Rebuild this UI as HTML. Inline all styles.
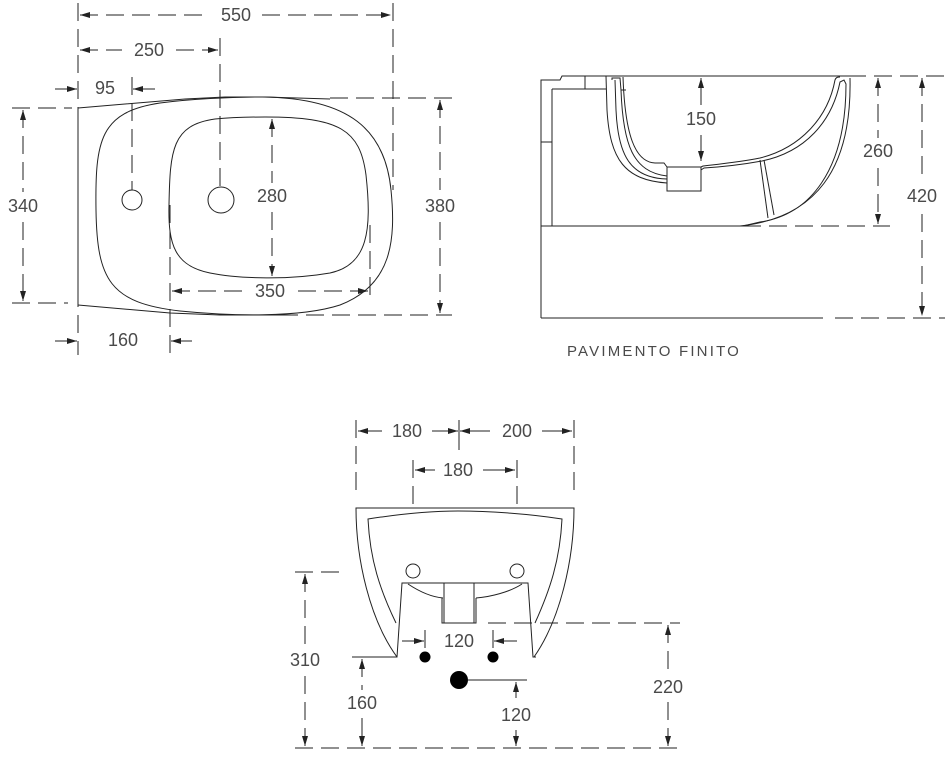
<!DOCTYPE html>
<html><head><meta charset="utf-8"><style>
html,body{margin:0;padding:0;background:#fff;}
svg{display:block;}
text{font-family:"Liberation Sans",sans-serif;font-size:18px;fill:#4a4a4a;text-anchor:middle;dominant-baseline:middle;}
.s{stroke:#222;stroke-width:1;fill:none;}
.d{stroke:#222;stroke-width:1;fill:none;stroke-dasharray:18,8;}
</style></head><body>
<svg width="947" height="759" viewBox="0 0 947 759" xmlns="http://www.w3.org/2000/svg">
<defs>
<marker id="a" viewBox="0 0 10 6" refX="10" refY="3" markerWidth="10" markerHeight="6" markerUnits="userSpaceOnUse" orient="auto-start-reverse"><path d="M0,0 L10,3 L0,6 Z" fill="#222"/></marker>
</defs>
<rect width="947" height="759" fill="#fff"/>

<!-- ===== TOP VIEW ===== -->
<line class="d" x1="78" y1="3" x2="78" y2="355"/>
<line class="d" x1="393" y1="3" x2="393" y2="190"/>
<line class="d" x1="80" y1="15" x2="210" y2="15" marker-start="url(#a)"/>
<line class="d" x1="262" y1="15" x2="391" y2="15" marker-end="url(#a)"/>
<text x="236" y="16">550</text>
<line class="d" x1="220" y1="38" x2="220" y2="188"/>
<line class="d" x1="80" y1="50" x2="122" y2="50" marker-start="url(#a)"/>
<line class="d" x1="176" y1="50" x2="218" y2="50" marker-end="url(#a)"/>
<text x="149" y="51">250</text>
<line class="d" x1="132" y1="77" x2="132" y2="190"/>
<line class="s" x1="55" y1="89" x2="77" y2="89" marker-end="url(#a)"/>
<line class="s" x1="155" y1="89" x2="133" y2="89" marker-end="url(#a)"/>
<text x="105" y="89">95</text>
<line class="s" x1="78" y1="108" x2="78" y2="305"/>
<path class="s" d="M78,108 L185,99 L225,97 L265,97 L330,99"/>
<path class="s" d="M78,305 L170,313 L220,315 L280,315"/>
<path class="s" d="M262,97 C350,98 385,130 391,190 C396,240 392,285 340,305 C300,318 230,316 180,311 C110,303 97,280 96,210 C95,140 100,112 160,103 C190,99 230,97 262,97 Z"/>
<path class="s" d="M265,117 C340,117 360,130 366,175 C372,230 368,265 330,273 C290,280 240,279 210,273 C175,266 168,245 169,205 C170,150 172,125 215,119 C235,117 250,117 265,117 Z"/>
<circle class="s" cx="132" cy="200" r="10"/>
<circle class="s" cx="221" cy="200" r="13"/>
<line class="d" x1="272" y1="119" x2="272" y2="183" marker-start="url(#a)"/>
<line class="d" x1="272" y1="212" x2="272" y2="276" marker-end="url(#a)"/>
<text x="272" y="197">280</text>
<line class="d" x1="170" y1="205" x2="170" y2="355"/>
<line class="d" x1="370" y1="225" x2="370" y2="303"/>
<line class="d" x1="172" y1="291" x2="243" y2="291" marker-start="url(#a)"/>
<line class="d" x1="298" y1="291" x2="368" y2="291" marker-end="url(#a)"/>
<text x="270" y="292">350</text>
<line class="d" x1="330" y1="98" x2="452" y2="98"/>
<line class="d" x1="280" y1="315" x2="452" y2="315"/>
<line class="d" x1="440" y1="100" x2="440" y2="190" marker-start="url(#a)"/>
<line class="d" x1="440" y1="222" x2="440" y2="313" marker-end="url(#a)"/>
<text x="440" y="207">380</text>
<line class="d" x1="12" y1="108" x2="72" y2="108"/>
<line class="d" x1="12" y1="303" x2="68" y2="303"/>
<line class="d" x1="23" y1="110" x2="23" y2="192" marker-start="url(#a)"/>
<line class="d" x1="23" y1="222" x2="23" y2="301" marker-end="url(#a)"/>
<text x="23" y="207">340</text>
<line class="s" x1="55" y1="341" x2="77" y2="341" marker-end="url(#a)"/>
<line class="s" x1="192" y1="341" x2="171" y2="341" marker-end="url(#a)"/>
<text x="123" y="341">160</text>

<!-- ===== SIDE VIEW ===== -->
<path class="s" d="M541,318 L541,80 L560,80 L562,76 L848,76"/>
<line class="d" x1="848" y1="76" x2="945" y2="76"/>
<line class="s" x1="541" y1="318" x2="823" y2="318"/>
<line class="d" x1="835" y1="318" x2="945" y2="318"/>
<line class="s" x1="552" y1="89" x2="552" y2="226"/>
<line class="s" x1="552" y1="89" x2="606" y2="89"/>
<line class="s" x1="585" y1="76" x2="585" y2="89"/>
<line class="s" x1="541" y1="142" x2="552" y2="142"/>
<line class="s" x1="541" y1="226" x2="743" y2="226"/>
<line class="d" x1="743" y1="226" x2="890" y2="226"/>
<path class="s" d="M606,76 L607,110 C610,160 625,180 667,183"/>
<path class="s" d="M612,80 L612,78 L620,78 L621,90 C623,145 633,172 667,176"/>
<path class="s" d="M615,80 L616,110 C618,155 630,178 667,179"/>
<path class="s" d="M623,77 C625,135 635,162 655,163 L664,163 L667,167"/>
<line class="s" x1="621" y1="90" x2="626" y2="90"/>
<rect class="s" x="667" y="167" width="34" height="24"/>
<path class="s" d="M701,167 L703,166 C720,164 740,162 760,158 C800,148 828,118 835,80 C836,77 838,77 840,77"/>
<path class="s" d="M701,170 L704,168 C720,167 740,165 762,161 C805,152 832,122 840,82 L844,80 L846,84 C846,170 810,215 760,222 L743,226"/>
<path class="s" d="M850,78 C852,170 815,218 740,226"/>
<line class="s" x1="760" y1="160" x2="768" y2="218"/>
<line class="s" x1="764" y1="160" x2="774" y2="215"/>
<line class="s" x1="701" y1="78" x2="701" y2="105" marker-start="url(#a)"/>
<line class="s" x1="701" y1="135" x2="701" y2="161" marker-end="url(#a)"/>
<text x="701" y="120">150</text>
<line class="d" x1="878" y1="78" x2="878" y2="138" marker-start="url(#a)"/>
<line class="d" x1="878" y1="168" x2="878" y2="224" marker-end="url(#a)"/>
<text x="878" y="152">260</text>
<line class="d" x1="922" y1="78" x2="922" y2="182" marker-start="url(#a)"/>
<line class="d" x1="922" y1="214" x2="922" y2="316" marker-end="url(#a)"/>
<text x="922" y="197">420</text>
<text x="654" y="352" style="font-size:15px;letter-spacing:2.2px;">PAVIMENTO FINITO</text>

<!-- ===== FRONT VIEW ===== -->
<line class="d" x1="356" y1="420" x2="356" y2="498"/>
<line class="s" x1="459" y1="420" x2="459" y2="450"/>
<line class="d" x1="574" y1="420" x2="574" y2="498"/>
<line class="s" x1="358" y1="431" x2="382" y2="431" marker-start="url(#a)"/>
<line class="s" x1="432" y1="431" x2="458" y2="431" marker-end="url(#a)"/>
<line class="s" x1="460" y1="431" x2="490" y2="431" marker-start="url(#a)"/>
<line class="s" x1="542" y1="431" x2="572" y2="431" marker-end="url(#a)"/>
<text x="407" y="432">180</text>
<text x="517" y="432">200</text>
<line class="d" x1="413" y1="460" x2="413" y2="508"/>
<line class="d" x1="517" y1="460" x2="517" y2="508"/>
<line class="s" x1="415" y1="470" x2="435" y2="470" marker-start="url(#a)"/>
<line class="s" x1="483" y1="470" x2="515" y2="470" marker-end="url(#a)"/>
<text x="458" y="471">180</text>
<path class="s" d="M397,657 C370,620 356,560 356,508 L574,508 C574,560 560,620 534,657"/>
<path class="s" d="M396,623 C380,590 370,560 368,519 C400,514 430,511 458,511 C490,511 530,514 562,519 C560,560 550,590 535,623"/>
<path class="s" d="M393,657 L397,657 L402,583 L528,583 L533,657 L536,657"/>
<path class="s" d="M408,584 C420,592 432,597 443,598"/>
<path class="s" d="M522,584 C510,592 490,597 476,598"/>
<rect class="s" x="444" y="583" width="30" height="40"/>
<path class="s" d="M442,598 L442,623 L476,623 L476,598"/>
<circle class="s" cx="413" cy="571" r="7"/>
<circle class="s" cx="517" cy="571" r="7"/>
<circle cx="425" cy="657" r="5.5" fill="#000"/>
<circle cx="493" cy="657" r="5.5" fill="#000"/>
<circle cx="459" cy="680" r="9" fill="#000"/>
<line class="s" x1="425" y1="630" x2="425" y2="648"/>
<line class="s" x1="493" y1="630" x2="493" y2="648"/>
<line class="s" x1="402" y1="641" x2="424" y2="641" marker-end="url(#a)"/>
<line class="s" x1="517" y1="641" x2="494" y2="641" marker-end="url(#a)"/>
<text x="459" y="642">120</text>
<line class="d" x1="295" y1="572" x2="345" y2="572"/>
<line class="d" x1="305" y1="574" x2="305" y2="645" marker-start="url(#a)"/>
<line class="d" x1="305" y1="676" x2="305" y2="746" marker-end="url(#a)"/>
<text x="305" y="661">310</text>
<line class="s" x1="352" y1="657" x2="393" y2="657"/>
<line class="d" x1="362" y1="659" x2="362" y2="690" marker-start="url(#a)"/>
<line class="d" x1="362" y1="718" x2="362" y2="746" marker-end="url(#a)"/>
<text x="362" y="704">160</text>
<line class="d" x1="488" y1="623" x2="680" y2="623"/>
<line class="d" x1="668" y1="625" x2="668" y2="672" marker-start="url(#a)"/>
<line class="d" x1="668" y1="702" x2="668" y2="746" marker-end="url(#a)"/>
<text x="668" y="688">220</text>
<line class="s" x1="468" y1="680" x2="527" y2="680"/>
<line class="s" x1="516" y1="698" x2="516" y2="682" marker-end="url(#a)"/>
<line class="s" x1="516" y1="730" x2="516" y2="746" marker-end="url(#a)"/>
<text x="516" y="716">120</text>
<line class="d" x1="295" y1="748" x2="680" y2="748"/>
</svg>
</body></html>
